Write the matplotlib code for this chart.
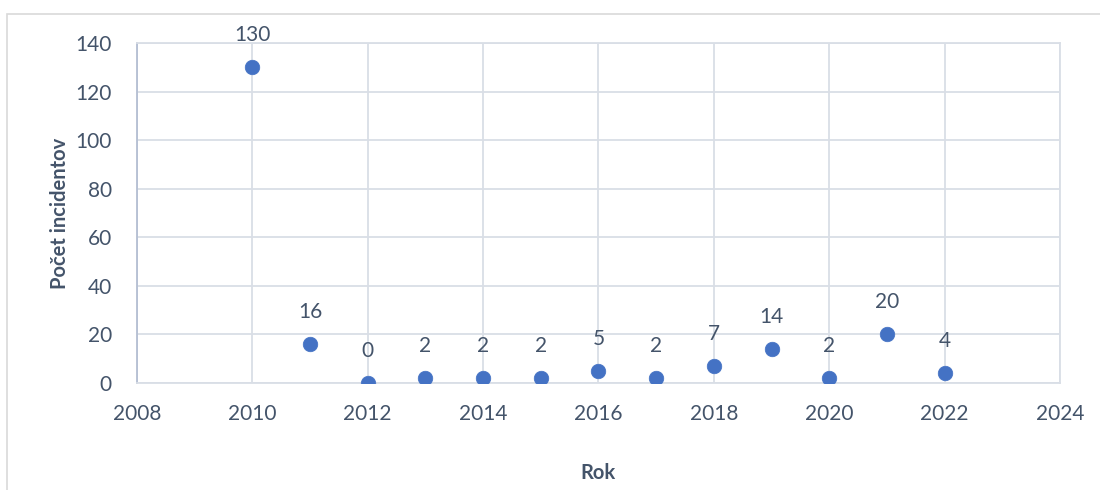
import matplotlib.pyplot as plt
from matplotlib.patches import Rectangle

years = [2010, 2011, 2012, 2013, 2014, 2015, 2016, 2017, 2018, 2019, 2020, 2021, 2022]
incidents = [130, 16, 0, 2, 2, 2, 5, 2, 7, 14, 2, 20, 4]

text_color = '#44546A'
grid_color = '#D9DEE6'
point_color = '#4472C4'

plt.rcParams['font.family'] = ['Lato', 'DejaVu Sans']

fig = plt.figure(figsize=(11, 4.9), dpi=100)
ax = fig.add_axes([0.1245, 0.2184, 0.8391, 0.6938])

# light frame around the whole chart area
fig.patches.append(Rectangle((7 / 1100, -0.01), 1.1, 476 / 490 + 0.01,
                             transform=fig.transFigure, fill=False,
                             edgecolor='#D9D9D9', linewidth=1.2))

ax.scatter(years, incidents, s=110, color=point_color, zorder=3,
           edgecolors=point_color, linewidths=0.5)
for x, y in zip(years, incidents):
    ax.annotate(str(y), (x, y), xytext=(0, 23), textcoords='offset points',
                ha='center', va='center', fontsize=15, color=text_color)

ax.set_xlim(2008, 2024)
ax.set_ylim(0, 140)
ax.set_xticks(range(2008, 2025, 2))
ax.set_yticks(range(0, 141, 20))
ax.grid(True, color=grid_color, linewidth=1.3)
ax.set_axisbelow(True)

for side in ['top', 'right', 'bottom']:
    ax.spines[side].set_color(grid_color)
    ax.spines[side].set_linewidth(1.3)
ax.spines['left'].set_color('#B4BED2')
ax.spines['left'].set_linewidth(1.3)

ax.tick_params(length=0, labelsize=15, labelcolor=text_color)
ax.tick_params(axis='x', pad=15)
ax.tick_params(axis='y', pad=18)
ax.set_xlabel('Rok', fontsize=14.5, fontweight='bold', color=text_color, labelpad=28)
ax.set_ylabel('Počet incidentov', fontsize=14.5, fontweight='bold', color=text_color,
              labelpad=4)

fig.savefig('out.png', dpi=100)
